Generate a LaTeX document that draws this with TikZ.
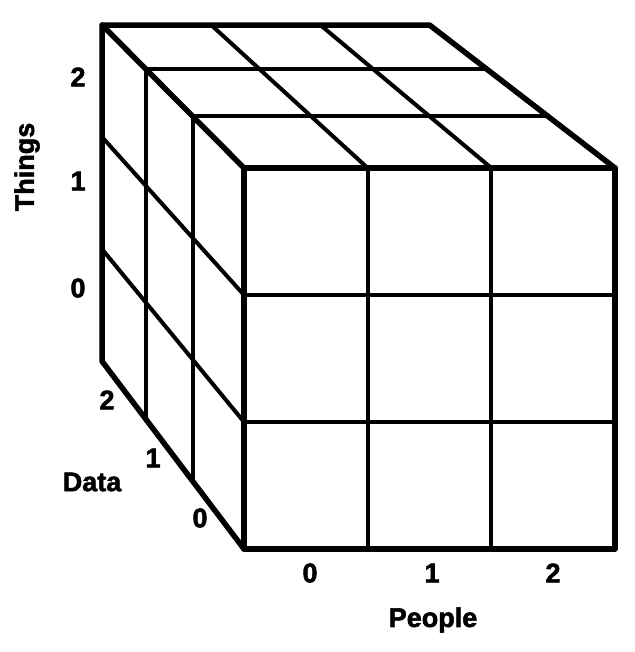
\documentclass[tikz,border=0pt]{standalone}
\usepackage{fontspec}
\setmainfont{Liberation Sans}[BoldFeatures={FakeBold=2}]
\usetikzlibrary{positioning}

\begin{document}
\begin{tikzpicture}[x=1pt,y=-1pt,
  cell/.style={line width=4pt,line cap=round},
  rim/.style={line width=5.5pt,line cap=round,line join=round},
  lbl/.style={font=\fontsize{27}{30}\selectfont\bfseries,inner sep=0pt}]
\useasboundingbox (0,0) rectangle (634,652);
% corner points of the cube, seen in perspective
\foreach \i in {0,...,3}{
\foreach \j in {0,...,3}{
\foreach \k in {0,...,3}{
\pgfmathsetmacro\s{1/(1+0.0443*\k)}
\pgfmathsetmacro\px{-965+\s*(244+123.67*\i+965)}
\pgfmathsetmacro\py{-1050+\s*(168+127*\j+1050)}
\coordinate (p\i\j\k) at (\px,\py);
}}}
% cell lines: front, top, left
\foreach \n in {1,2}{
\draw[cell] (p\n00) -- (p\n30);
\draw[cell] (p0\n0) -- (p3\n0);
\draw[cell] (p\n00) -- (p\n03);
\draw[cell] (p00\n) -- (p30\n);
\draw[cell] (p0\n0) -- (p0\n3);
\draw[cell] (p00\n) -- (p03\n);
}
% outer edges
\draw[rim] (p000) -- (p300) -- (p330) -- (p030) -- cycle;
\draw[rim] (p000) -- (p003) -- (p303) -- (p300);
\draw[rim] (p003) -- (p033) -- (p030);
% axis labels
\node[lbl,rotate=90] (things) at (27,167) {Things};
\node[lbl] (t2) at (78,77) {2};
\node[lbl] (t1) at (78,181) {1};
\node[lbl] (t0) at (78,288) {0};
\node[lbl] (data) at (92,482) {Data};
\node[lbl] (d2) at (107,400) {2};
\node[lbl] (d1) at (153,458) {1};
\node[lbl] (d0) at (200,518) {0};
\node[lbl] (pe0) at (310,573) {0};
\node[lbl] (pe1) at (432,573) {1};
\node[lbl] (pe2) at (553,573) {2};
\node[lbl] (people) at (433,620) {People};
\end{tikzpicture}
\end{document}
